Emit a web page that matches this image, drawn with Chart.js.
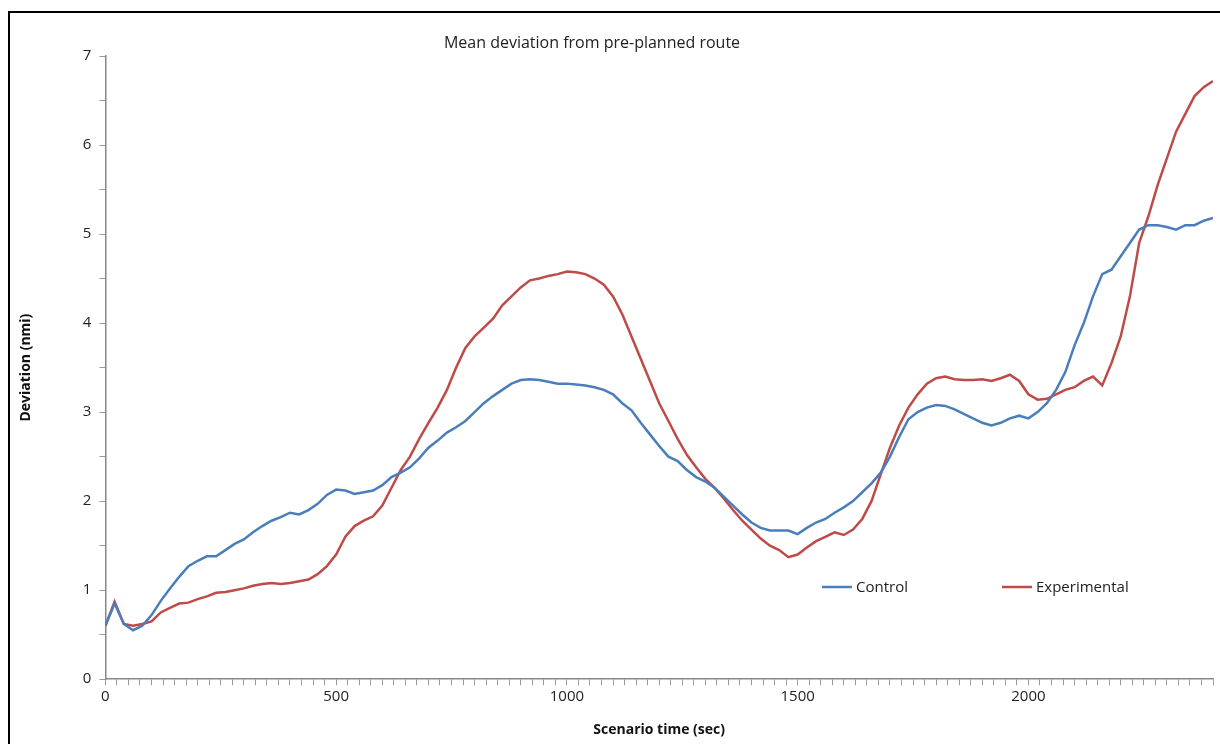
<!DOCTYPE html>
<html>
<head>
<meta charset="utf-8">
<script src="https://cdn.jsdelivr.net/npm/chart.js@4"></script>
<style>
  html, body { margin: 0; background: #fff; }
  #wrap { position: relative; width: 1220px; height: 744px; overflow: hidden; }
  #frame { position: absolute; left: 8px; top: 11px; width: 1240px; height: 760px; border: 2px solid #000; }
  canvas { position: absolute; left: 0; top: 0; }
</style>
</head>
<body>
<div id="wrap">
  <div id="frame"></div>
  <canvas id="c" width="1220" height="744"></canvas>
</div>
<script>
const times = [];
for (let t = 0; t <= 2400; t += 20) times.push(t);

const control = [0.6,0.85,0.62,0.55,0.6,0.72,0.88,1.02,1.15,1.27,1.33,1.38,1.38,1.45,1.52,1.57,1.65,1.72,1.78,1.82,
  1.87,1.85,1.9,1.97,2.07,2.13,2.12,2.08,2.1,2.12,2.18,2.27,2.32,2.38,2.48,2.6,2.68,2.77,2.83,2.9,
  3.0,3.1,3.18,3.25,3.32,3.36,3.37,3.36,3.34,3.32,3.32,3.31,3.3,3.28,3.25,3.2,3.1,3.02,2.88,2.75,
  2.62,2.5,2.45,2.35,2.27,2.22,2.15,2.05,1.95,1.85,1.76,1.7,1.67,1.67,1.67,1.63,1.7,1.76,1.8,1.87,
  1.93,2.0,2.1,2.2,2.32,2.5,2.72,2.92,3.0,3.05,3.08,3.07,3.03,2.98,2.93,2.88,2.85,2.88,2.93,2.96,
  2.93,3.0,3.1,3.25,3.45,3.75,4.0,4.3,4.55,4.6,4.75,4.9,5.05,5.1,5.1,5.08,5.05,5.1,5.1,5.15,5.18];

const experimental = [0.6,0.87,0.62,0.6,0.62,0.65,0.75,0.8,0.85,0.86,0.9,0.93,0.97,0.98,1.0,1.02,1.05,1.07,1.08,1.07,
  1.08,1.1,1.12,1.18,1.27,1.4,1.6,1.72,1.78,1.83,1.95,2.15,2.35,2.5,2.7,2.88,3.05,3.25,3.5,3.72,
  3.85,3.95,4.05,4.2,4.3,4.4,4.48,4.5,4.53,4.55,4.58,4.57,4.55,4.5,4.43,4.3,4.1,3.85,3.6,3.35,
  3.1,2.9,2.7,2.52,2.38,2.25,2.15,2.03,1.9,1.78,1.68,1.58,1.5,1.45,1.37,1.4,1.48,1.55,1.6,1.65,
  1.62,1.68,1.8,2.0,2.3,2.6,2.85,3.05,3.2,3.32,3.38,3.4,3.37,3.36,3.36,3.37,3.35,3.38,3.42,3.35,
  3.2,3.14,3.15,3.2,3.25,3.28,3.35,3.4,3.3,3.55,3.85,4.3,4.9,5.2,5.55,5.85,6.15,6.35,6.55,6.65,6.72];

const seriesNames = ["Control", "Experimental"];
const seriesColors = ["#4a7ebb", "#be4b48"];
const chartTitle = "Mean deviation from pre-planned route";

const font = "'Open Sans', 'DejaVu Sans', sans-serif";

const overlay = {
  id: "overlay",
  afterDraw(chart) {
    const ctx = chart.ctx;
    ctx.save();
    ctx.fillStyle = "#222";
    ctx.font = "16px " + font;
    ctx.textAlign = "center";
    ctx.textBaseline = "middle";
    ctx.fillText(chartTitle, 592, 43);
    const spots = [[822, 587], [1002, 587]];
    ctx.font = "15px " + font;
    ctx.textAlign = "left";
    chart.data.datasets.forEach((ds, i) => {
      const [x, y] = spots[i];
      ctx.strokeStyle = ds.borderColor;
      ctx.lineWidth = 2.5;
      ctx.beginPath(); ctx.moveTo(x, y); ctx.lineTo(x + 30, y); ctx.stroke();
      ctx.fillStyle = "#222";
      ctx.fillText(ds.label, x + 34, y + 1);
    });
    ctx.restore();
  }
};

const tickFont = { family: font, size: 15 };

new Chart(document.getElementById("c"), {
  type: "line",
  data: {
    datasets: seriesNames.map((name, i) => ({
      label: name,
      data: (i === 0 ? control : experimental).map((v, j) => ({ x: times[j], y: v })),
      borderColor: seriesColors[i],
      borderWidth: 2.5,
      pointRadius: 0,
      tension: 0
    }))
  },
  options: {
    responsive: false,
    animation: false,
    layout: { padding: { left: 14, right: 7, top: 56, bottom: 6 } },
    plugins: { legend: { display: false }, tooltip: { enabled: false } },
    scales: {
      x: {
        type: "linear", min: 0, max: 2400,
        ticks: {
          stepSize: 25, autoSkip: false, maxRotation: 0, color: "#222", font: tickFont,
          callback: (v) => (v % 500 === 0 ? v : "")
        },
        grid: { drawOnChartArea: false, drawTicks: true, tickLength: 6, color: "#999" },
        border: { color: "#888", width: 1.5 },
        title: { display: true, text: "Scenario time (sec)", color: "#111",
          font: { family: font, size: 14, weight: "bold" }, padding: { top: 12, bottom: 0 } }
      },
      y: {
        min: 0, max: 7,
        ticks: {
          stepSize: 0.5, autoSkip: false, color: "#222", font: tickFont, padding: 8,
          callback: (v) => (Number.isInteger(v) ? v : "")
        },
        grid: { drawOnChartArea: false, drawTicks: true, tickLength: 6, color: "#999" },
        border: { color: "#888", width: 1.5 },
        title: { display: true, text: "Deviation (nmi)", color: "#111",
          font: { family: font, size: 14, weight: "bold" }, padding: { bottom: 40 } }
      }
    }
  },
  plugins: [overlay]
});
</script>
</body>
</html>
